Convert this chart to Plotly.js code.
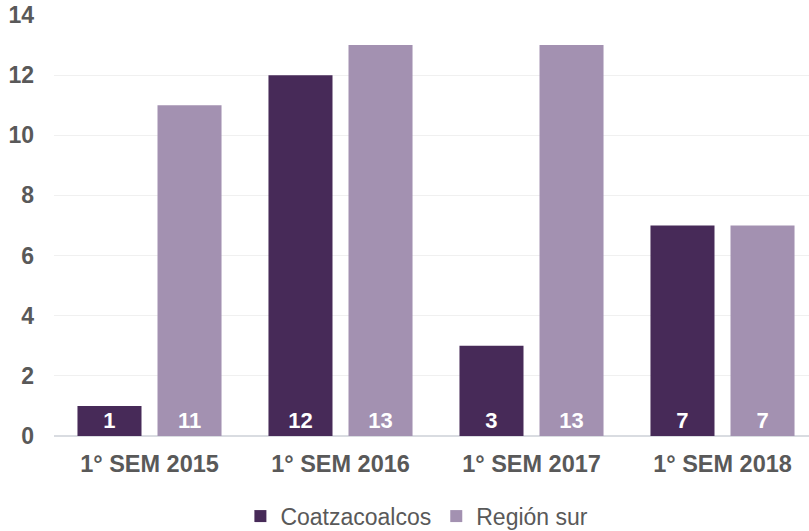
<!DOCTYPE html>
<html>
<head>
<meta charset="utf-8">
<script src="https://cdn.plot.ly/plotly-3.0.1.min.js"></script>
<style>
html,body{margin:0;padding:0;overflow:hidden;background:#fff;width:809px;height:531px;}
#chart{width:819px;height:531px;}
</style>
</head>
<body>
<div id="chart"></div>
<script>
var categories = ["1° SEM 2015", "1° SEM 2016", "1° SEM 2017", "1° SEM 2018"];
var coatzacoalcos = [1, 12, 3, 7];
var regionSur = [11, 13, 13, 7];
var yTicks = [0, 2, 4, 6, 8, 10, 12, 14];

var FONT = "Liberation Sans, Arial, sans-serif";
var GRAY = "#595959";

function series(name, vals, color) {
  return {
    type: "bar",
    name: name,
    x: categories,
    y: vals,
    marker: {color: color},
    text: vals.map(String),
    textposition: "inside",
    insidetextanchor: "start",
    textangle: 0,
    constraintext: "none",
    textfont: {family: FONT, size: 22, color: "#ffffff", weight: "bold"},
    hoverinfo: "x+y+name"
  };
}

var data = [
  series("Coatzacoalcos", coatzacoalcos, "#472A58"),
  series("Región sur", regionSur, "#A391B1")
];

var layout = {
  width: 819,
  height: 531,
  margin: {l: 54, r: 1, t: 15, b: 95, autoexpand: false},
  paper_bgcolor: "#ffffff",
  plot_bgcolor: "#ffffff",
  barmode: "group",
  bargap: 0.162,
  bargroupgap: 0.2,
  font: {family: FONT, color: GRAY},
  xaxis: {
    type: "category",
    tickfont: {family: FONT, size: 23.5, color: GRAY, weight: "bold"},
    ticks: "",
    showgrid: false,
    showline: false,
    ticklabelstandoff: 11,
    automargin: false,
    fixedrange: true
  },
  yaxis: {
    range: [0, 14],
    tickvals: yTicks,
    ticktext: yTicks.map(String),
    tickfont: {family: FONT, size: 23, color: GRAY, weight: "bold"},
    ticks: "",
    showgrid: true,
    gridcolor: "#F0F0F0",
    gridwidth: 1,
    zeroline: true,
    zerolinecolor: "#D9DCE1",
    zerolinewidth: 2,
    showline: false,
    ticklabelstandoff: 19,
    automargin: false,
    fixedrange: true
  },
  showlegend: true,
  legend: {
    orientation: "h",
    x: 0.475,
    xanchor: "center",
    yref: "container",
    y: 0.028,
    yanchor: "middle",
    font: {family: FONT, size: 23, color: GRAY},
    traceorder: "normal",
    itemclick: false,
    itemdoubleclick: false
  }
};

Plotly.newPlot("chart", data, layout, {displayModeBar: false, staticPlot: true});
</script>
</body>
</html>
